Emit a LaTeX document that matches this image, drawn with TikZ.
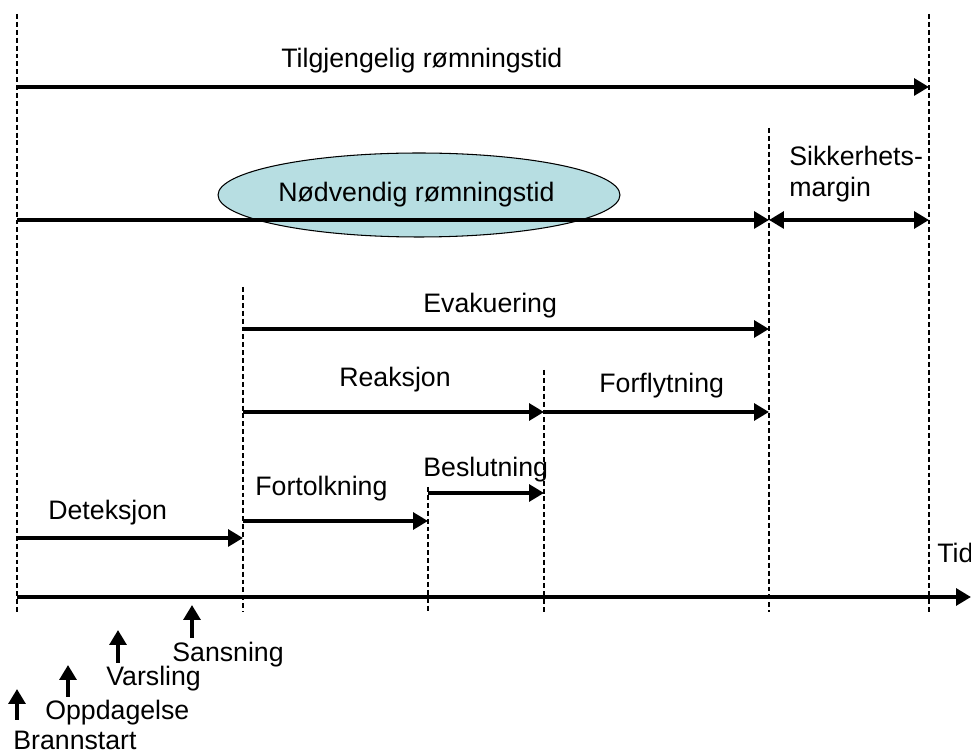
\documentclass[tikz,border=0pt]{standalone}
\usepackage{fontspec}
\setmainfont{Liberation Sans}
\usetikzlibrary{arrows.meta,shapes.geometric}
\definecolor{ellfill}{RGB}{183,222,226}
\tikzset{
  span/.style={line width=2.7pt,-{Triangle[length=8.5pt,width=9.5pt]}},
  twoway/.style={line width=2.7pt,{Triangle[length=8.5pt,width=9.5pt]}-{Triangle[length=8.5pt,width=9.5pt]}},
  guide/.style={line width=0.9pt,dash pattern=on 2.8pt off 1.7pt},
  lbl/.style={font=\fontsize{15.2}{18}\selectfont,inner sep=0pt,anchor=base west}
}
\begin{document}
\begin{tikzpicture}[x=0.02cm,y=-0.02cm]
	\useasboundingbox (0,0) rectangle (971,756);
	% rows
	\coordinate (r1) at (0,87);
	\coordinate (r2) at (0,220);
	\coordinate (r3) at (0,329);
	\coordinate (r4) at (0,412);
	\coordinate (r5) at (0,493);
	\coordinate (r6) at (0,521);
	\coordinate (r7) at (0,538);
	\coordinate (ax) at (0,597);
	% time marks with guide lines
	\foreach \n/\x/\y in {t0/17/14, t1/243/287, t2/428/487, t3/544/370, t4/769/128, t5/929/14} {
		\coordinate (\n) at (\x,\y);
		\draw [guide] (\n) -- (\x,612);
	}
	\coordinate (tend) at (971,597);
	% ellipse
	\node [ellipse,draw,line width=0.6pt,fill=ellfill,minimum width=8.04cm,minimum height=1.68cm,inner sep=0pt] (ell) at (419,195) {};
	% spans
	\draw [span] (t0 |- r1) -- (t5 |- r1);
	\draw [span] (t0 |- r2) -- (t4 |- r2);
	\draw [twoway] (t4 |- r2) -- (t5 |- r2);
	\draw [span] (t1 |- r3) -- (t4 |- r3);
	\draw [span] (t1 |- r4) -- (t3 |- r4);
	\draw [span] (t3 |- r4) -- (t4 |- r4);
	\draw [span] (t2 |- r5) -- (t3 |- r5);
	\draw [span] (t1 |- r6) -- (t2 |- r6);
	\draw [span] (t0 |- r7) -- (t1 |- r7);
	\draw [span] (t0 |- ax) -- (tend);
	% labels
	\node [lbl] (tilgj) at (281,68) {Tilgjengelig rømningstid};
	\node [lbl] (nodv) at (278,202) {Nødvendig rømningstid};
	\node [lbl] (sikk) at (789,166) {Sikkerhets-};
	\node [lbl] (marg) at (789,197) {margin};
	\node [lbl] (evak) at (423,313) {Evakuering};
	\node [lbl] (reak) at (339,387) {Reaksjon};
	\node [lbl] (forf) at (599,393) {Forflytning};
	\node [lbl] (besl) at (423,477) {Beslutning};
	\node [lbl] (fort) at (255,496) {Fortolkning};
	\node [lbl] (dete) at (48,520) {Deteksjon};
	\node [lbl] (tid) at (937,563) {Tid};
	% events
	\foreach \n/\x/\lo/\hi/\lx/\ly/\txt in {
		brann/17/720/689/13/750/Brannstart,
		oppd/68/697/665/45/720/Oppdagelse,
		vars/118/663/630/106/686/Varsling,
		sans/192/638/605/172/662/Sansning} {
		\coordinate (\n-lo) at (\x,\lo);
		\coordinate (\n-hi) at (\x,\hi);
		\draw [span] (\n-lo) -- (\n-hi);
		\node [lbl] (\n) at (\lx,\ly) {\txt};
	}
\end{tikzpicture}
\end{document}
